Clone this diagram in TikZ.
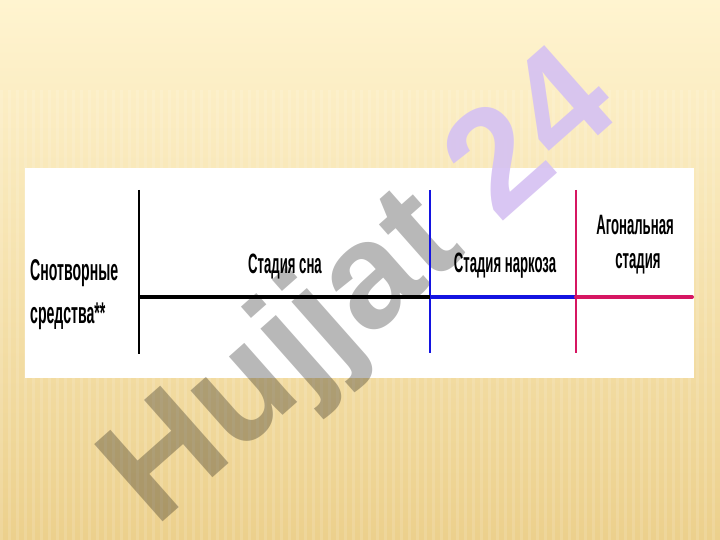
\documentclass[tikz,border=0pt]{standalone}
\usepackage{fontspec}
\setmainfont{Liberation Sans}
\newfontfamily\narrowsans[FakeStretch=0.47]{Liberation Sans}
\usepackage{tikz}
\usetikzlibrary{calc}
\definecolor{bgtop}{RGB}{255,244,208}
\definecolor{bgbot}{RGB}{236,208,140}
\definecolor{narcblue}{RGB}{20,20,225}
\definecolor{agonred}{RGB}{214,22,98}
\definecolor{wmlilac}{RGB}{214,194,242}
\tikzset{
  lbl/.style={inner sep=0pt, font=\narrowsans\bfseries\fontsize{28}{28}\selectfont},
  lblbig/.style={inner sep=0pt, font=\narrowsans\bfseries\fontsize{30}{30}\selectfont},
  wm/.style={inner sep=0pt, rotate=41.5, font=\fontsize{150}{150}\selectfont\bfseries}
}

\begin{document}
\begin{tikzpicture}[x=1pt,y=-1pt]
			%%%%% START %%%%%
			\useasboundingbox (0,0) rectangle (720,540);
			\shade[top color=bgtop, bottom color=bgbot] (0,0) rectangle (720,540);
			\foreach \x in {0,8,...,720}
			  \fill[white, opacity=0.13] (\x,90) rectangle ++(3,450);
			
			\fill[white] (25,168) rectangle (694,378);
			
			% watermark
			\node[wm, anchor=base east, text=black, text opacity=0.28] (wmA) at (468,252) {Hujjat};
			\node[wm, anchor=base west, text=wmlilac, text opacity=0.92] (wmB) at (wmA.base east) {\ 24};
			
			\coordinate (t0) at (139,190);
			\coordinate (b0) at (139,354);
			\coordinate (t1) at (430,190);
			\coordinate (b1) at (430,353);
			\coordinate (t2) at (576,190);
			\coordinate (b2) at (576,353);
			\coordinate (h0) at (139,297);
			\coordinate (h1) at (430,297);
			\coordinate (h2) at (576,297);
			\coordinate (h3) at (692,297);
			
			\draw[line width=2.4pt] (t0) -- (b0);
			\draw[line width=2.4pt, narcblue] (t1) -- (b1);
			\draw[line width=2.2pt, agonred] (t2) -- (b2);
			
			\draw[line width=4pt] (h0) -- (h1);
			\draw[line width=4pt, narcblue] (h1) -- (h2);
			\draw[line width=4pt, agonred, line cap=round] (h2) -- (h3);
			
			\node[lblbig, anchor=base west] (hyp1) at (30,280) {Снотворные};
			\node[lblbig, anchor=base west] (hyp2) at (30,323) {средства**};
			\node[lbl, anchor=base] (sleep) at (285,273) {Стадия сна};
			\node[lbl, anchor=base] (narc) at (505,272) {Стадия наркоза};
			\node[lbl, anchor=base] (agon1) at (635,235) {Агональная};
			\node[lbl, anchor=base] (agon2) at (638,268) {стадия};
			%%%%% END %%%%%
		\end{tikzpicture}
\end{document}
